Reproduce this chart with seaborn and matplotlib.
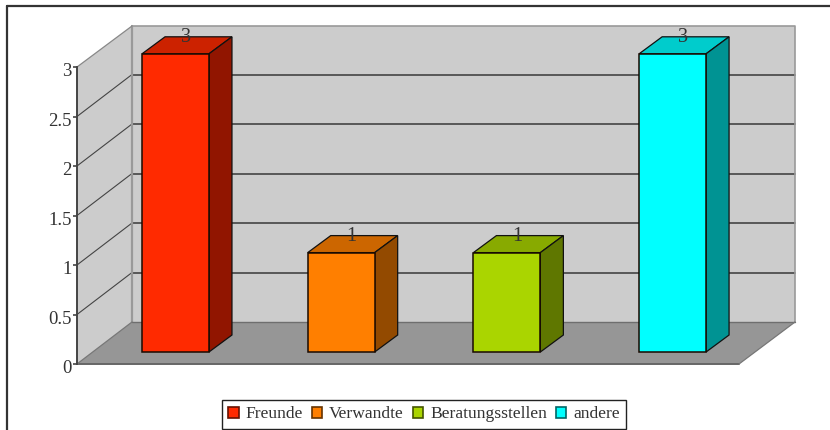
import matplotlib
matplotlib.use("Agg")
import matplotlib.pyplot as plt
import matplotlib.transforms as mtransforms
import pandas as pd
import seaborn as sns
from matplotlib.lines import Line2D
from matplotlib.patches import Patch, Polygon, Rectangle

categories = ["Freunde", "Verwandte", "Beratungsstellen", "andere"]
values = [3, 1, 1, 3]
tick_values = [0, 0.5, 1, 1.5, 2, 2.5, 3]
tick_labels = ["0", "0.5", "1", "1.5", "2", "2.5", "3"]

front_colors = ["#ff2a00", "#ff7f00", "#aad500", "#00ffff"]
top_colors = ["#cc2200", "#cc6600", "#88aa00", "#00cccc"]
side_colors = ["#911500", "#934a00", "#5f7700", "#009393"]
legend_edges = ["#661100", "#663300", "#445500", "#006666"]

W, H = 830, 430
X_UNIT = 165.7
Y_UNIT = 99.4

sns.set_theme(style="white")
plt.rcParams["font.family"] = ["Liberation Serif", "DejaVu Serif"]

fig = plt.figure(figsize=(W / 100, H / 100), dpi=100, facecolor="white")
ax = fig.add_axes([0, 0, 1, 1])

# everything that is not a bar is placed in image pixels, y pointing down
pixels = mtransforms.Affine2D().scale(1, -1).translate(0, H)


def face(points, color, z, edge="none", lw=0.0):
    ax.add_patch(Polygon(points, closed=True, facecolor=color, edgecolor=edge,
                         linewidth=lw, transform=pixels, zorder=z))


def pixel_line(xs, ys, color, lw, z=2):
    ax.add_line(Line2D(xs, ys, color=color, linewidth=lw, transform=pixels, zorder=z))


# front faces come from seaborn, side and top faces are extruded from them
df = pd.DataFrame({"category": categories, "value": values})
sns.barplot(data=df, x="category", y="value", hue="category", order=categories,
            hue_order=categories, palette=front_colors, width=0.404, dodge=False,
            saturation=1, legend=False, edgecolor="#1a0a00", linewidth=1.1, ax=ax, zorder=4)
bars = sorted([p for p in ax.patches if isinstance(p, Rectangle)], key=lambda p: p.get_x())
bars = [b for b in bars if b.get_height() > 0]

# outer frame, only left and top are inside the picture
pixel_line([7, 7], [H, 6], "#333333", 1.6)
pixel_line([7, W], [6, 6], "#333333", 1.6)

# walls and floor
face([(132, 26), (795, 26), (795, 322), (132, 322)], "#cccccc", 1)
face([(77, 67), (132, 26), (132, 322), (77, 364)], "#cccccc", 1)
face([(77, 364), (132, 322), (795, 322), (739, 364)], "#969696", 1)

front_zero, unit = 364, 99.0
depth_x, depth_y = 55, -42
for v in tick_values[1:-1]:
    y = front_zero - v * unit
    pixel_line([77, 77 + depth_x], [y, y + depth_y], "#444444", 0.8)
    pixel_line([132, 795], [y + depth_y, y + depth_y], "#444444", 1.2)

pixel_line([132, 795, 795], [26, 26, 322], "#999999", 1.2)
pixel_line([132, 132], [26, 322], "#999999", 1.6)
pixel_line([77, 132], [67, 26], "#888888", 0.9)
pixel_line([132, 795], [322, 322], "#6e6e6e", 1.0)
pixel_line([77, 739], [364, 364], "#666666", 1.4)
pixel_line([739, 795], [364, 322], "#777777", 0.9)
pixel_line([77, 132], [364, 322], "#777777", 0.9)

bar_dx = 23 / X_UNIT
bar_dy = 17 / Y_UNIT
for bar, value, top_c, side_c in zip(bars, values, top_colors, side_colors):
    x0, x1 = bar.get_x(), bar.get_x() + bar.get_width()
    ax.add_patch(Polygon([(x0, value), (x1, value), (x1 + bar_dx, value + bar_dy), (x0 + bar_dx, value + bar_dy)],
                         closed=True, facecolor=top_c, edgecolor="#111111", linewidth=0.9, zorder=3))
    ax.add_patch(Polygon([(x1, 0), (x1 + bar_dx, bar_dy), (x1 + bar_dx, value + bar_dy), (x1, value)],
                         closed=True, facecolor=side_c, edgecolor="#111111", linewidth=0.9, zorder=3))
    ax.text((x0 + x1 + bar_dx) / 2 - 0.006, value + bar_dy - 0.01, str(value), ha="center", va="center",
            fontsize=14.5, color="#333333", zorder=6)

ax.set_xlim((0 - 175.5) / X_UNIT, (W - 175.5) / X_UNIT)
ax.set_ylim((352 - H) / Y_UNIT, 352 / Y_UNIT)
ax.axis("off")

# value axis sits on the front edge of the left wall
scale_ax = fig.add_axes([77 / W, (H - 364) / H, 0.001, 297 / H])
scale_ax.patch.set_visible(False)
scale_ax.set_ylim(0, 3)
scale_ax.set_xticks([])
scale_ax.set_yticks(tick_values)
scale_ax.set_yticklabels(tick_labels, fontsize=13.5, color="#333333")
scale_ax.tick_params(axis="y", left=True, length=3, width=1.2, color="#444444", pad=1)
nudge = mtransforms.ScaledTranslation(0, -2 / 72, fig.dpi_scale_trans)
for label in scale_ax.get_yticklabels():
    label.set_transform(label.get_transform() + nudge)
for name, spine in scale_ax.spines.items():
    spine.set_visible(name == "left")
scale_ax.spines["left"].set_color("#444444")
scale_ax.spines["left"].set_linewidth(1.4)

handles = [Patch(facecolor=c, edgecolor=e, linewidth=1.2, label=n)
           for c, e, n in zip(front_colors, legend_edges, categories)]
leg = fig.legend(handles=handles, loc="center", bbox_to_anchor=(424 / W, (H - 414.5) / H),
                 bbox_transform=fig.transFigure, ncol=4, fontsize=12.6, frameon=True,
                 fancybox=False, edgecolor="#222222", framealpha=1, borderaxespad=0,
                 handlelength=0.6, handleheight=0.6, handletextpad=0.4,
                 columnspacing=0.5, borderpad=0.35, labelcolor="#333333")
leg.get_frame().set_linewidth(1.0)

fig.savefig("out.png", dpi=100)
